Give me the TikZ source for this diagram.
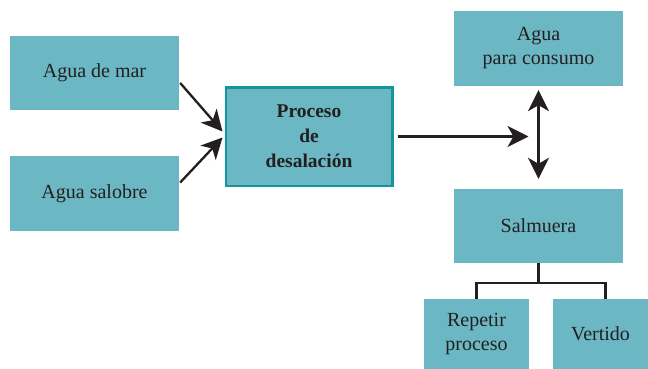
\documentclass[tikz,border=0pt]{standalone}
\usepackage{fontspec}
\setmainfont{Liberation Serif}
\usepackage{tikz}
\usetikzlibrary{arrows.meta,positioning,calc}
\definecolor{boxteal}{HTML}{6BB8C4}
\definecolor{rimteal}{HTML}{14959D}
\definecolor{inkgray}{HTML}{231F20}
\tikzset{
	blk/.style={fill=boxteal, inner sep=2pt, align=center, text=inkgray,
		font=\fontsize{20}{24}\selectfont, minimum width=169pt, minimum height=74pt},
	proc/.style={blk, draw=rimteal, line width=2.5pt, font=\fontsize{19.5}{25}\selectfont\bfseries,
		minimum width=166.5pt, minimum height=98.5pt},
	conn/.style={draw=inkgray, line width=2.3pt, line join=miter},
	tip/.style={Stealth[length=21pt, width=21pt, inset=6pt]},
	arr/.style={conn, -{Stealth[length=21pt, width=21pt, inset=6pt]}},
	darr/.style={conn, {Stealth[length=21pt, width=21pt, inset=6pt]}-{Stealth[length=21pt, width=21pt, inset=6pt]}},
}
\begin{document}
\begin{tikzpicture}[x=1pt, y=-1pt]
	\useasboundingbox (0,0) rectangle (648,369);
	% inputs
	\node[blk] at (94.5,73) (mar) {Agua de mar};
	\node[blk, minimum height=75pt] at (94.5,193.5) (sal) {Agua salobre};
	\node[proc] at (309,136.5) (desal) {Proceso\\de\\desalación};
	% outputs
	\node[blk, minimum height=75pt] at (538.5,48.5) (cons) {Agua\\para consumo};
	\node[blk] at (538.5,226) (salm) {Salmuera};
	\node[blk, minimum width=105pt, minimum height=70pt] at (476.5,334) (rep) {Repetir\\proceso};
	\node[blk, minimum width=95pt, minimum height=70pt] at (600.5,334) (vert) {Vertido};
	% connectors
	\coordinate (hub) at (salm.north |- desal.east);
	\coordinate (vtop) at ($(vert.north)+(5,0)$);
	\draw[arr] ($(mar.east)+(1,10)$) -- ($(desal.west)+(-2,-5)$);
	\draw[arr] ($(sal.east)+(1,-11)$) -- ($(desal.west)+(-2,1)$);
	\draw[arr] ($(desal.east)+(4,0)$) -- ($(hub)+(-10,0)$);
	\draw[darr] ($(cons.south)+(0,4)$) -- ($(salm.north)+(0,-10)$);
	\draw[conn] (salm.south) -- ++(0,20) coordinate (split);
	\draw[conn] (rep.north) |- (split) -| (vtop);
\end{tikzpicture}
\end{document}
